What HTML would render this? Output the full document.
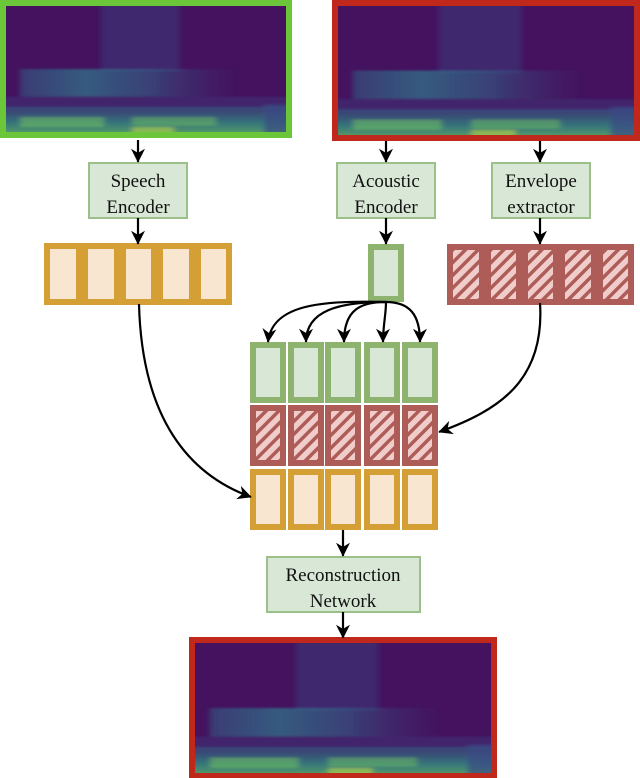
<!DOCTYPE html>
<html><head><meta charset="utf-8"><style>
html,body{margin:0;padding:0;background:#fff;}
svg{display:block;}
text{font-family:"Liberation Serif",serif;font-size:19px;fill:#111;}
</style></head><body>
<svg width="640" height="778" viewBox="0 0 640 778" xmlns="http://www.w3.org/2000/svg">
<defs>
<pattern id="hatch" width="9" height="9" patternUnits="userSpaceOnUse" patternTransform="rotate(45)">
<rect width="9" height="9" fill="#f0cdca"/>
<rect width="3.5" height="9" fill="#ae5c57"/>
</pattern>
<filter id="soft" x="-5%" y="-5%" width="110%" height="110%">
<feGaussianBlur stdDeviation="1 0.8"/>
</filter>
<linearGradient id="midband" x1="0" x2="1" y1="0" y2="0">
<stop offset="0" stop-color="#2f6f8e" stop-opacity="0.45"/>
<stop offset="0.3" stop-color="#2f7a8e" stop-opacity="0.7"/>
<stop offset="0.6" stop-color="#2f6f8e" stop-opacity="0.5"/>
<stop offset="1" stop-color="#3a4a85" stop-opacity="0"/>
</linearGradient>
<linearGradient id="botband" x1="0" x2="0" y1="0" y2="1">
<stop offset="0" stop-color="#2f6f8e" stop-opacity="0.5"/>
<stop offset="0.5" stop-color="#2f9a86" stop-opacity="0.85"/>
<stop offset="1" stop-color="#6cc95c"/>
</linearGradient>
<clipPath id="cp"><rect width="100" height="100"/></clipPath>
<symbol id="spec" viewBox="0 0 100 100" preserveAspectRatio="none">
<rect width="100" height="100" fill="#44125e"/>
<g clip-path="url(#cp)"><g filter="url(#soft)">
<rect x="34" y="-5" width="28" height="57" fill="#3a3b7c" opacity="0.55"/>
<rect x="5" y="50" width="78" height="22" fill="url(#midband)"/>
<rect x="-5" y="72" width="110" height="10" fill="#3b3f80" opacity="0.4"/>
<rect x="-5" y="80" width="110" height="25" fill="url(#botband)" opacity="0.85"/>
<rect x="92" y="78" width="13" height="27" fill="#3b4a85" opacity="0.7"/>
<rect x="5" y="88" width="30" height="8" fill="#7dd05a" opacity="0.45"/>
<rect x="45" y="88" width="30" height="7" fill="#7dd05a" opacity="0.4"/>
<rect x="45" y="96" width="15" height="6" fill="#c8e040" opacity="0.5"/>
</g></g>
</symbol>
<marker id="ah" viewBox="0 0 10 10" refX="9.5" refY="5" markerWidth="14" markerHeight="14" orient="auto" markerUnits="userSpaceOnUse">
<path d="M0,0 L10,5 L0,10 L3,5 Z" fill="#000"/>
</marker>
</defs>

<rect x="3" y="3" width="286" height="132" fill="none" stroke="#6cc63a" stroke-width="6"/>
<use href="#spec" x="6" y="6" width="280" height="126"/>
<rect x="335" y="3" width="302" height="135" fill="none" stroke="#c0281c" stroke-width="6"/>
<use href="#spec" x="338" y="6" width="296" height="129"/>
<rect x="192" y="640" width="302" height="136" fill="none" stroke="#c0281c" stroke-width="6"/>
<use href="#spec" x="195" y="643" width="296" height="130"/>

<g fill="#d9e8d6" stroke="#9cc08a" stroke-width="2">
<rect x="89" y="163" width="98" height="55"/>
<rect x="337" y="163" width="98" height="55"/>
<rect x="492" y="163" width="98" height="55"/>
<rect x="267" y="557" width="153" height="55"/>
</g>
<g text-anchor="middle">
<text x="138" y="187">Speech</text><text x="138" y="213">Encoder</text>
<text x="386" y="187">Acoustic</text><text x="386" y="213">Encoder</text>
<text x="541" y="187">Envelope</text><text x="541" y="213">extractor</text>
<text x="343" y="581">Reconstruction</text><text x="343" y="607">Network</text>
</g>

<g fill="#f9e6d0" stroke="#d4a036" stroke-width="6">
<rect x="47" y="246" width="32" height="56"/>
<rect x="85" y="246" width="32" height="56"/>
<rect x="123" y="246" width="31" height="56"/>
<rect x="160" y="246" width="32" height="56"/>
<rect x="198" y="246" width="31" height="56"/>
</g>
<rect x="371" y="247" width="30" height="52" fill="#d9e8d6" stroke="#8db36f" stroke-width="6"/>
<g fill="url(#hatch)" stroke="#ae5c57" stroke-width="6">
<rect x="450" y="247" width="32" height="55"/>
<rect x="488" y="247" width="31" height="55"/>
<rect x="525" y="247" width="31" height="55"/>
<rect x="562" y="247" width="32" height="55"/>
<rect x="600" y="247" width="31" height="55"/>
</g>

<g fill="#d9e8d6" stroke="#8db36f" stroke-width="6">
<rect x="253" y="345" width="30" height="55"/>
<rect x="291" y="345" width="30" height="55"/>
<rect x="328" y="345" width="30" height="55"/>
<rect x="367" y="345" width="30" height="55"/>
<rect x="405" y="345" width="30" height="55"/>
</g>
<g fill="url(#hatch)" stroke="#ae5c57" stroke-width="6">
<rect x="253" y="408" width="30" height="55"/>
<rect x="291" y="408" width="30" height="55"/>
<rect x="328" y="408" width="30" height="55"/>
<rect x="367" y="408" width="30" height="55"/>
<rect x="405" y="408" width="30" height="55"/>
</g>
<g fill="#f9e6d0" stroke="#d4a036" stroke-width="6">
<rect x="253" y="472" width="30" height="55"/>
<rect x="291" y="472" width="30" height="55"/>
<rect x="328" y="472" width="30" height="55"/>
<rect x="367" y="472" width="30" height="55"/>
<rect x="405" y="472" width="30" height="55"/>
</g>

<g fill="none" stroke="#000" stroke-width="2.2" marker-end="url(#ah)">
<path d="M138 140 V162"/>
<path d="M386 141 V162"/>
<path d="M540 141 V162"/>
<path d="M138 218 V244"/>
<path d="M386 218 V244"/>
<path d="M540 218 V244"/>
<path d="M343 530 V556"/>
<path d="M343 612 V638"/>
<path d="M139 304 C142 420 190 475 251 497"/>
<path d="M540 303 C545 380 500 410 439 432"/>
<path d="M386 302 C320 300 272 305 268 342"/>
<path d="M386 302 C340 302 306 310 306 342"/>
<path d="M386 302 C360 302 344 310 344 342"/>
<path d="M386 302 C386 315 383 325 383 342"/>
<path d="M386 302 C410 302 420 315 420 342"/>
</g>
</svg>
</body></html>
